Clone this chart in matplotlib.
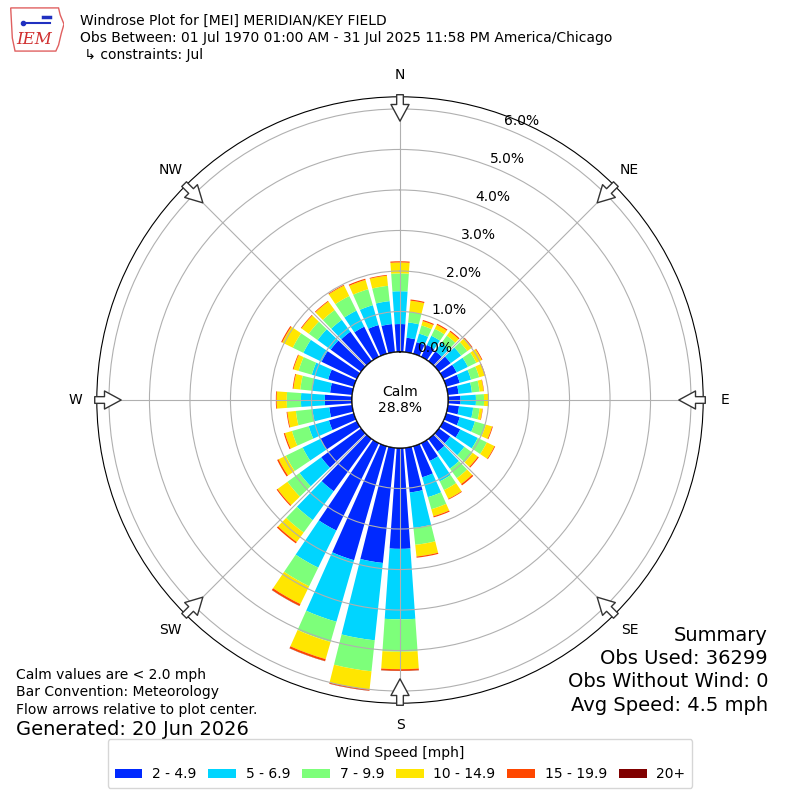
import numpy as np
import matplotlib
matplotlib.use('Agg')
import matplotlib.pyplot as plt
from matplotlib.patches import Patch, Circle, Polygon

# wind direction bins (deg, meteorological) and speed bins
directions = np.arange(0, 360, 10)
speed_labels = ['2 - 4.9', '5 - 6.9', '7 - 9.9', '10 - 14.9', '15 - 19.9', '20+']

# frequency [%] per direction for each speed bin
pct_2_5 = [0.69, 0.36, 0.30, 0.33, 0.30, 0.36, 0.37, 0.35, 0.27, 0.31, 0.28, 0.35,
           0.47, 0.35, 0.39, 0.49, 0.80, 1.11, 2.49, 2.86, 2.93, 2.40, 1.60, 1.22,
           1.00, 0.64, 0.57, 0.67, 0.55, 0.66, 0.97, 0.93, 0.90, 0.83, 0.74, 0.70]
pct_5_7 = [0.81, 0.38, 0.22, 0.25, 0.26, 0.32, 0.31, 0.29, 0.33, 0.38, 0.35, 0.39,
           0.48, 0.43, 0.52, 0.56, 0.51, 0.88, 1.74, 1.92, 1.58, 1.02, 0.88, 0.66,
           0.49, 0.52, 0.42, 0.59, 0.45, 0.42, 0.50, 0.40, 0.36, 0.44, 0.51, 0.57]
pct_7_10 = [0.44, 0.26, 0.21, 0.19, 0.22, 0.19, 0.23, 0.21, 0.19, 0.20, 0.16, 0.28,
            0.25, 0.25, 0.29, 0.24, 0.31, 0.42, 0.80, 0.77, 0.52, 0.51, 0.38, 0.37,
            0.46, 0.43, 0.41, 0.35, 0.29, 0.34, 0.29, 0.27, 0.30, 0.40, 0.41, 0.38]
pct_10_15 = [0.27, 0.28, 0.11, 0.11, 0.12, 0.13, 0.15, 0.14, 0.10, 0.11, 0.07, 0.16,
             0.21, 0.16, 0.18, 0.24, 0.18, 0.29, 0.43, 0.45, 0.44, 0.49, 0.29, 0.30,
             0.20, 0.18, 0.21, 0.25, 0.17, 0.13, 0.29, 0.22, 0.26, 0.29, 0.24, 0.25]
pct_15_20 = [0.03, 0.03, 0.03, 0.03, 0.03, 0.03, 0.02, 0.02, 0.01, 0.01, 0.01, 0.02,
             0.02, 0.03, 0.04, 0.02, 0.03, 0.03, 0.04, 0.03, 0.05, 0.05, 0.04, 0.03,
             0.04, 0.03, 0.02, 0.02, 0.02, 0.02, 0.03, 0.02, 0.02, 0.02, 0.03, 0.02]
pct_20up = [0.0] * 18 + [0.005, 0.005, 0.005, 0.005] + [0.0] * 14

calm_pct = 28.8
summary = ["Summary", "Obs Used: 36299", "Obs Without Wind: 0", "Avg Speed: 4.5 mph"]
footer = ["Calm values are < 2.0 mph", "Bar Convention: Meteorology",
          "Flow arrows relative to plot center."]
title = ("Windrose Plot for [MEI] MERIDIAN/KEY FIELD\n"
         "Obs Between: 01 Jul 1970 01:00 AM - 31 Jul 2025 11:58 PM America/Chicago\n"
         " \u21b3 constraints: Jul")
compass = ['N', 'NE', 'E', 'SE', 'S', 'SW', 'W', 'NW']

series = [pct_2_5, pct_5_7, pct_7_10, pct_10_15, pct_15_20, pct_20up]
colors = plt.get_cmap('jet')(np.linspace(0, 1, 7)[1:])

fig = plt.figure(figsize=(8, 8), dpi=100)
ax = fig.add_axes([0.121, 0.121, 0.758, 0.758], projection='polar')
ax.set_theta_zero_location('N')
ax.set_theta_direction(-1)

theta = np.deg2rad(directions)
width = np.deg2rad(8)
bottom = np.zeros(len(directions))
for vals, c in zip(series, colors):
    vals = np.array(vals)
    ax.bar(theta, vals, width=width, bottom=bottom, color=c, edgecolor='none')
    bottom += vals

ax.set_rorigin(-1.185)
ax.set_ylim(0, 6.3)
ax.set_rticks(np.arange(0, 7))
ax.set_yticklabels(['%.1f%%' % v for v in np.arange(0, 7)], fontsize=10)
ax.set_rlabel_position(21)
ax.set_thetagrids(np.arange(0, 360, 45), compass, fontsize=10)
ax.tick_params(axis='x', pad=5)

# calm circle in the middle
ax.add_patch(Circle((0.5, 0.5), 48 / 606.0, transform=ax.transAxes,
                    facecolor='white', edgecolor='black', lw=1, zorder=5))
ax.text(0.5, 0.5, "Calm\n%.1f%%" % calm_pct, transform=ax.transAxes,
        ha='center', va='center', fontsize=10, zorder=6)

# flow arrows, pointing to plot center
for d in np.arange(0, 360, 45):
    t = np.deg2rad(d)
    ax.annotate('', xy=(t, 5.63), xytext=(t, 6.42), annotation_clip=False,
                arrowprops=dict(arrowstyle='simple,head_length=0.6,head_width=0.65,tail_width=0.24',
                                fc='white', ec='#333333', lw=1, mutation_scale=20),
                zorder=7)

fig.text(0.1, 0.9825, title, va='top', ha='left', fontsize=10, linespacing=1.25)

fig.text(0.02, 0.165, "\n".join(footer), va='top', ha='left', fontsize=10,
         linespacing=1.3)
fig.text(0.02, 0.088, "Generated: 20 Jun 2026", va='center', ha='left', fontsize=14)
for i, line in enumerate(summary):
    fig.text(0.96, 0.206 - i * 0.0292, line, va='center', ha='right', fontsize=14)

handles = [Patch(facecolor=c) for c in colors]
fig.legend(handles, speed_labels, loc='lower center', bbox_to_anchor=(0.5, 0.006),
           ncol=6, title='Wind Speed [mph]', fontsize=10, title_fontsize=10,
           columnspacing=0.85, handletextpad=0.7, borderpad=0.5)

# IEM logo (rough)
lax = fig.add_axes([0.012, 0.935, 0.068, 0.058])
lax.axis('off')
lax.set_xlim(0, 1)
lax.set_ylim(0, 1)
lax.add_patch(Polygon([(0.02, 0.95), (0.9, 0.95), (0.93, 0.8), (1.0, 0.6), (0.95, 0.4),
                       (0.9, 0.15), (0.85, 0.02), (0.1, 0.02), (0.05, 0.3)],
                      closed=True, fill=False, ec='#e06060', lw=1))
lax.plot([0.25, 0.75], [0.62, 0.62], color='#2030c0', lw=1.5)
lax.plot([0.25], [0.62], 'o', color='#2030c0', ms=3)
lax.plot([0.62, 0.75], [0.75, 0.75], color='#2030c0', lw=2.5)
lax.text(0.12, 0.28, 'IEM', color='#d03030', fontsize=12, style='italic',
         family='DejaVu Serif', va='center')

fig.savefig('out.png', dpi=100)
